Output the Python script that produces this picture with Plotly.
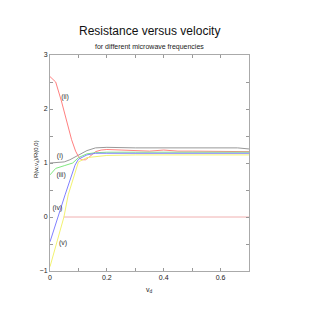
import plotly.graph_objects as go

# (i) gray
x_i = [0, 0.03, 0.05, 0.07, 0.1, 0.13, 0.16, 0.2, 0.3, 0.4, 0.5, 0.6, 0.63, 0.66, 0.7]
y_i = [1.0, 1.01, 1.02, 1.06, 1.15, 1.23, 1.28, 1.29, 1.28, 1.28, 1.28, 1.27, 1.28, 1.28, 1.26]
# (ii) red
x_ii = [0, 0.02, 0.04, 0.06, 0.076, 0.09, 0.1, 0.11, 0.125, 0.14, 0.16, 0.18, 0.2, 0.25, 0.3, 0.35, 0.4, 0.45, 0.5, 0.6, 0.7]
y_ii = [2.6, 2.5, 2.15, 1.75, 1.43, 1.22, 1.12, 1.06, 1.06, 1.12, 1.21, 1.24, 1.25, 1.24, 1.23, 1.22, 1.24, 1.22, 1.22, 1.22, 1.21]
# (iii) green
x_iii = [0, 0.02, 0.05, 0.08, 0.1, 0.13, 0.16, 0.2, 0.3, 0.4, 0.5, 0.6, 0.7]
y_iii = [0.78, 0.9, 0.95, 1.0, 1.1, 1.17, 1.19, 1.2, 1.2, 1.2, 1.2, 1.2, 1.2]
# (iv) blue
x_iv = [0, 0.029, 0.053, 0.088, 0.1, 0.13, 0.16, 0.2, 0.3, 0.4, 0.5, 0.6, 0.7]
y_iv = [-0.46, 0.04, 0.41, 0.96, 1.07, 1.15, 1.18, 1.18, 1.18, 1.18, 1.18, 1.18, 1.18]
# (v) yellow
x_v = [0, 0.029, 0.049, 0.064, 0.082, 0.1, 0.13, 0.2, 0.3, 0.4, 0.5, 0.6, 0.7]
y_v = [-0.92, -0.39, 0.0, 0.41, 0.72, 1.02, 1.1, 1.14, 1.15, 1.15, 1.15, 1.15, 1.15]
# zero line
x_zero = [0.048, 0.7]
y_zero = [0, 0]

labels = ["(i)", "(ii)", "(iii)", "(iv)", "(v)"]
label_x = [0.035, 0.053, 0.039, 0.026, 0.046]
label_y = [1.13, 2.22, 0.77, 0.17, -0.48]

colors = ["#999999", "#ff8080", "#80e880", "#8080ff", "#f2f270"]

fig = go.Figure()
fig.add_trace(go.Scatter(x=x_zero, y=y_zero, mode="lines", line=dict(color="#f0b0b0", width=1), showlegend=False))
for xs, ys, c in [(x_i, y_i, colors[0]), (x_ii, y_ii, colors[1]), (x_iii, y_iii, colors[2]),
                  (x_iv, y_iv, colors[3]), (x_v, y_v, colors[4])]:
    fig.add_trace(go.Scatter(x=xs, y=ys, mode="lines", line=dict(color=c, width=1), showlegend=False))

fig.add_trace(go.Scatter(x=label_x, y=label_y, mode="text", text=labels,
                         textfont=dict(size=7, color="#333333", family="Liberation Sans"),
                         showlegend=False))

fig.update_layout(
    width=327, height=327,
    margin=dict(l=42, r=86, t=47, b=64),
    plot_bgcolor="white", paper_bgcolor="white",
    font=dict(family="Liberation Sans", size=7, color="#222222"),
)
fig.add_annotation(text="Resistance versus velocity", xref="paper", yref="paper",
                   x=0.5, y=1.0, yanchor="middle", xanchor="center", yshift=24,
                   showarrow=False, font=dict(size=12, color="#111111"))
fig.add_annotation(text="for different microwave frequencies", xref="paper", yref="paper",
                   x=0.5, y=1.0, yanchor="middle", xanchor="center", yshift=8,
                   showarrow=False, font=dict(size=7, color="#222222"))
fig.add_annotation(text="R(w,v<sub>d</sub>)/R(0,0)", xref="paper", yref="paper",
                   x=0, xanchor="center", xshift=-14, y=0.5, yanchor="middle", yshift=4,
                   textangle=-90, showarrow=False, font=dict(size=6, color="#222222"))
fig.add_annotation(text="v<sub>d</sub>", xref="paper", yref="paper",
                   x=0.5, xanchor="center", y=0, yanchor="middle", yshift=-19,
                   showarrow=False, font=dict(size=7, color="#222222"))

fig.update_xaxes(range=[0, 0.7], dtick=0.2, tick0=0, ticks="inside", ticklen=3, tickcolor="#999999",
                 showline=True, linecolor="#aaaaaa", linewidth=1, mirror="ticks", showgrid=False,
                 zeroline=False, minor=dict(dtick=0.1, ticks="inside", ticklen=3, tickcolor="#999999"),
                 tickfont=dict(size=7))
fig.update_yaxes(range=[-1, 3], dtick=1, tick0=0, ticks="inside", ticklen=3, tickcolor="#999999",
                 showline=True, linecolor="#aaaaaa", linewidth=1, mirror="ticks", showgrid=False,
                 zeroline=False, minor=dict(dtick=0.5, ticks="inside", ticklen=3, tickcolor="#999999"),
                 tickfont=dict(size=7))

fig.write_html("out.html")
